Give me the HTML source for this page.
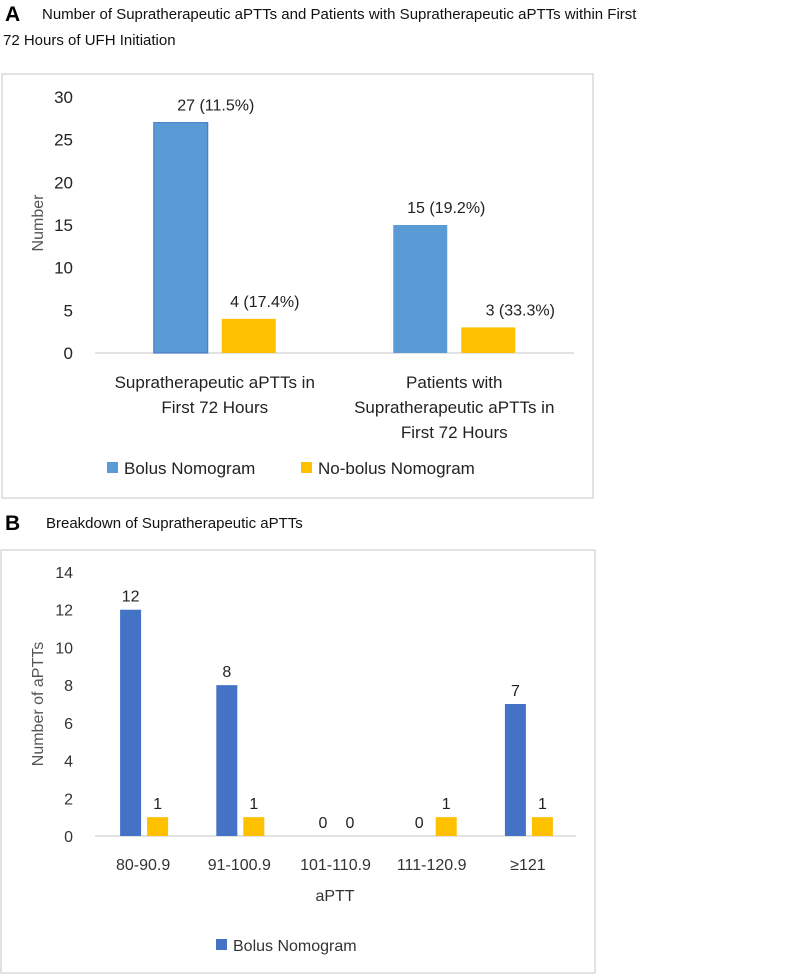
<!DOCTYPE html>
<html><head><meta charset="utf-8"><style>
html,body{margin:0;padding:0;background:#fff;}
svg{display:block;font-family:"Liberation Sans",sans-serif;}
</style></head><body>
<svg width="800" height="975" viewBox="0 0 800 975">
<text x="5" y="21" font-size="21" font-weight="bold" fill="#000">A</text>
<text x="42" y="19" font-size="15" fill="#111">Number of Supratherapeutic aPTTs and Patients with Supratherapeutic aPTTs within First</text>
<text x="3" y="45" font-size="15" fill="#111">72 Hours of UFH Initiation</text>
<rect x="2" y="74" width="591" height="424" fill="#fff" stroke="#d9d9d9" stroke-width="1.5"/>
<g id="chartA"></g>
<text x="5" y="530" font-size="21" font-weight="bold" fill="#000">B</text>
<text x="46" y="528" font-size="15" fill="#111">Breakdown of Supratherapeutic aPTTs</text>
<rect x="1" y="550" width="594" height="423" fill="#fff" stroke="#d9d9d9" stroke-width="1.5"/>
<g id="chartB"></g>
</svg>
<script>
const NS="http://www.w3.org/2000/svg";
const catsA=[["Supratherapeutic aPTTs in","First 72 Hours"],["Patients with","Supratherapeutic aPTTs in","First 72 Hours"]];
const bolusA=[27,15];
const noBolusA=[4,3];
const bolusLabelsA=["27  (11.5%)","15 (19.2%)"];
const noBolusLabelsA=["4 (17.4%)","3 (33.3%)"];
const ticksA=[0,5,10,15,20,25,30];

const catsB=["80-90.9","91-100.9","101-110.9","111-120.9","\u2265121"];
const bolusB=[12,8,0,0,7];
const noBolusB=[1,1,0,1,1];
const ticksB=[0,2,4,6,8,10,12,14];

function mk(parent,tag,attrs,text){const e=document.createElementNS(NS,tag);for(const k in attrs)e.setAttribute(k,attrs[k]);if(text!==undefined)e.textContent=text;parent.appendChild(e);return e;}

// Panel A
(function(){
 const g=document.getElementById('chartA');
 const x0=95,x1=574,y0=353,yTop=97,max=30;
 const y=v=>y0-(v/max)*(y0-yTop);
 const band=(x1-x0)/catsA.length;
 ticksA.forEach(t=>{
  const e=mk(g,'text',{x:73,y:y(t)+6,'font-size':17,'text-anchor':'end',fill:'#222'},String(t));
  
  
 });
 const ax=mk(g,'line',{x1:x0,x2:x1,y1:y0,y2:y0,stroke:'#d9d9d9','stroke-width':1.5});
 
 
 const yt=mk(g,'text',{transform:'translate(43,223) rotate(-90)','font-size':16,'text-anchor':'middle',fill:'#555'},'Number');
 
 
 catsA.forEach((c,i)=>{
  const cx=x0+band*(i+0.5);
  const bw=54;
  const b1=mk(g,'rect',{x:cx-61,y:y(bolusA[i]),width:bw,height:y0-y(bolusA[i]),fill:'#5B9BD5',stroke:'#4472C4','stroke-width':i==0?1:0});
  
  
  const b2=mk(g,'rect',{x:cx+7,y:y(noBolusA[i]),width:bw,height:y0-y(noBolusA[i]),fill:'#FFC000'});
  
  
  const l1=mk(g,'text',{x:cx-34+(i==0?35:26),y:y(bolusA[i])-12,'font-size':16,'text-anchor':'middle',fill:'#222'},bolusLabelsA[i]);
  
  
  const l2=mk(g,'text',{x:cx+34+(i==0?16:32),y:y(noBolusA[i])-12,'font-size':16,'text-anchor':'middle',fill:'#222'},noBolusLabelsA[i]);
  
  
  c.forEach((line,j)=>{
   const t=mk(g,'text',{x:cx,y:388+j*25,'font-size':17,'text-anchor':'middle',fill:'#222'},line);
   
   
  });
 });
 const s1=mk(g,'rect',{x:107,y:462,width:11,height:11,fill:'#5B9BD5'});
 
 
 const t1=mk(g,'text',{x:124,y:474,'font-size':17,fill:'#222'},'Bolus Nomogram');
 
 
 const s2=mk(g,'rect',{x:301,y:462,width:11,height:11,fill:'#FFC000'});
 
 
 const t2=mk(g,'text',{x:318,y:474,'font-size':17,fill:'#222'},'No-bolus Nomogram');
 
 
})();

// Panel B
(function(){
 const g=document.getElementById('chartB');
 const x0=95,x1=576,y0=836,yTop=572,max=14;
 const y=v=>y0-(v/max)*(y0-yTop);
 const band=(x1-x0)/catsB.length;
 ticksB.forEach(t=>{
  const e=mk(g,'text',{x:73,y:y(t)+6,'font-size':16,'text-anchor':'end',fill:'#333'},String(t));
  
  
 });
 const ax=mk(g,'line',{x1:x0,x2:x1,y1:y0,y2:y0,stroke:'#d9d9d9','stroke-width':1.5});
 
 
 const yt=mk(g,'text',{transform:'translate(43,704) rotate(-90)','font-size':16,'text-anchor':'middle',fill:'#555'},'Number of aPTTs');
 
 
 catsB.forEach((c,i)=>{
  const cx=x0+band*(i+0.5);
  const bw=21;
  if(bolusB[i]>0){
   const b1=mk(g,'rect',{x:cx-23,y:y(bolusB[i]),width:bw,height:y0-y(bolusB[i]),fill:'#4472C4'});
   
   
  }
  if(noBolusB[i]>0){
   const b2=mk(g,'rect',{x:cx+4,y:y(noBolusB[i]),width:bw,height:y0-y(noBolusB[i]),fill:'#FFC000'});
   
   
  }
  const l1=mk(g,'text',{x:cx-12.5,y:y(bolusB[i])-8,'font-size':16,'text-anchor':'middle',fill:'#222'},String(bolusB[i]));
  
  
  const l2=mk(g,'text',{x:cx+14.5,y:y(noBolusB[i])-8,'font-size':16,'text-anchor':'middle',fill:'#222'},String(noBolusB[i]));
  
  
  const t=mk(g,'text',{x:cx,y:870,'font-size':16,'text-anchor':'middle',fill:'#333'},c);
  
  
 });
 const xt=mk(g,'text',{x:335,y:901,'font-size':16,'text-anchor':'middle',fill:'#333'},'aPTT');
 
 
 const s1=mk(g,'rect',{x:216,y:939,width:11,height:11,fill:'#4472C4'});
 
 
 const t1=mk(g,'text',{x:233,y:951,'font-size':16,fill:'#333'},'Bolus Nomogram');
 
 
})();
</script>
</body></html>
